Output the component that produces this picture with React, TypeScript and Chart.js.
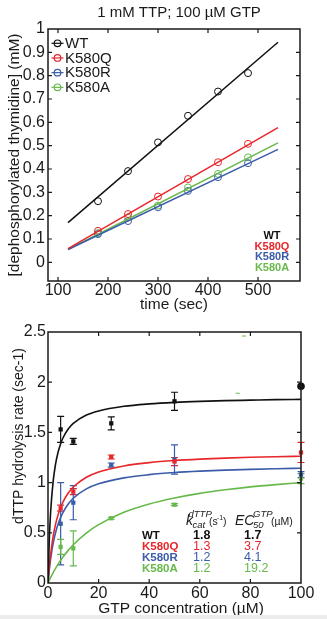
import React, { useEffect, useRef } from "react";
import { Chart, registerables } from "chart.js";

Chart.register(...registerables);

const RED = "#e8262b";
const BLUE = "#3b5ca8";
const GREEN = "#67b94c";
const BLACK = "#111111";
const FONT = "'Liberation Sans', Arial, sans-serif";

// ---------- top chart data ----------
const timeSec = [180, 240, 300, 360, 420, 480];
const wtProduct = [0.262, 0.391, 0.514, 0.628, 0.732, 0.811];
const k580qProduct = [0.135, 0.207, 0.282, 0.357, 0.429, 0.508];
const k580rProduct = [0.121, 0.177, 0.236, 0.306, 0.365, 0.425];
const k580aProduct = [0.125, 0.192, 0.243, 0.321, 0.379, 0.45];
const fitTime = [120, 540];
const wtFit = [0.17, 0.943];
const k580qFit = [0.059, 0.577];
const k580rFit = [0.055, 0.484];
const k580aFit = [0.055, 0.512];
const topXTicks = [100, 200, 300, 400, 500];
const topYTicks = [0, 0.1, 0.2, 0.3, 0.4, 0.5, 0.6, 0.7, 0.8, 0.9, 1];
const topYLabels = ["0", "0.1", "0.2", "0.3", "0.4", "0.5", "0.6", "0.7", "0.8", "0.9", "1"];
const seriesNames = ["WT", "K580Q", "K580R", "K580A"];
const seriesColors = [BLACK, RED, BLUE, GREEN];

// ---------- bottom chart data ----------
const gtpConc = [5, 10, 25, 50, 100];
const wtRate = [1.53, 1.41, 1.59, 1.81, 1.96];
const wtErr = [0.13, 0.03, 0.065, 0.09, 0];
const k580qRate = [0.745, 0.91, 1.255, 1.21, 1.3];
const k580qErr = [0.03, 0.03, 0.02, 0.04, 0.1];
const k580rRate = [0.59, 0.8, 1.175, 1.23, 1.08];
const k580rErr = [0.41, 0.17, 0.02, 0.145, 0.03];
const k580aRate = [0.36, 0.345, 0.645, 0.78, 1.04];
const k580aErr = [0.075, 0.175, 0.01, 0.01, 0.05];
const strayX = [75, 77.5];
const strayY = [1.89, 2.46];
const curveX = [0, 0.5, 1, 2, 3, 4, 5, 6, 8, 10, 15, 20, 30, 40, 50, 60, 70, 80, 90, 100];
const wtCurve = [0, 0.423, 0.689, 1.005, 1.187, 1.305, 1.388, 1.449, 1.534, 1.59, 1.671, 1.714, 1.76, 1.784, 1.799, 1.809, 1.816, 1.821, 1.826, 1.829];
const k580qCurve = [0, 0.156, 0.279, 0.46, 0.587, 0.681, 0.753, 0.81, 0.896, 0.956, 1.051, 1.105, 1.166, 1.199, 1.22, 1.234, 1.244, 1.252, 1.258, 1.263];
const k580rCurve = [0, 0.129, 0.233, 0.39, 0.503, 0.588, 0.654, 0.707, 0.787, 0.844, 0.935, 0.988, 1.047, 1.079, 1.1, 1.114, 1.124, 1.132, 1.138, 1.143];
const k580aCurve = [0, 0.027, 0.053, 0.102, 0.146, 0.188, 0.226, 0.261, 0.325, 0.381, 0.495, 0.581, 0.704, 0.787, 0.847, 0.893, 0.928, 0.957, 0.98, 1.0];
const botXTicks = [0, 20, 40, 60, 80, 100];
const botYTicks = [0, 0.5, 1, 1.5, 2, 2.5];
const botYLabels = ["0", "0.5", "1", "1.5", "2", "2.5"];
const kcatValues = ["1.8", "1.3", "1.2", "1.2"];
const ec50Values = ["1.7", "3.7", "4.1", "19.2"];

const pts = (xs: number[], ys: number[]) => xs.map((x, i) => ({ x, y: ys[i] }));

function drawFrame(chart: any, tickLen: number) {
  const { ctx, chartArea, scales } = chart;
  const { left, right, top, bottom } = chartArea;
  ctx.save();
  ctx.strokeStyle = "#1a1a1a";
  ctx.lineWidth = 1.5;
  ctx.strokeRect(left, top, right - left, bottom - top);
  ctx.lineWidth = 1.2;
  ctx.beginPath();
  scales.x.ticks.forEach((t: any) => {
    const px = scales.x.getPixelForValue(t.value);
    if (px > left + 2 && px < right - 2) {
      ctx.moveTo(px, bottom);
      ctx.lineTo(px, bottom - tickLen);
      ctx.moveTo(px, top);
      ctx.lineTo(px, top + tickLen);
    }
  });
  scales.y.ticks.forEach((t: any) => {
    const py = scales.y.getPixelForValue(t.value);
    if (py > top + 2 && py < bottom - 2) {
      ctx.moveTo(left, py);
      ctx.lineTo(left + tickLen, py);
      ctx.moveTo(right, py);
      ctx.lineTo(right - tickLen, py);
    }
  });
  ctx.stroke();
  ctx.restore();
}

function vText(ctx: any, text: string, cx: number, cy: number, font: string) {
  ctx.save();
  ctx.translate(cx, cy);
  ctx.rotate(-Math.PI / 2);
  ctx.font = font;
  ctx.fillStyle = "#1a1a1a";
  ctx.textAlign = "center";
  ctx.textBaseline = "middle";
  ctx.fillText(text, 0, 0);
  ctx.restore();
}

const topPlugin = {
  id: "topDecor",
  afterDraw(chart: any) {
    const ctx = chart.ctx;
    drawFrame(chart, 4);
    ctx.save();
    ctx.fillStyle = "#1a1a1a";
    ctx.font = `15px ${FONT}`;
    ctx.textAlign = "center";
    ctx.textBaseline = "middle";
    ctx.fillText("1 mM TTP; 100 \u00b5M GTP", 179, 13);
    ctx.font = `15.5px ${FONT}`;
    ctx.fillText("time (sec)", 174, 305);
    vText(ctx, "[dephosphorylated thymidine] (mM)", 14.5, 155, `15.5px ${FONT}`);
    // legend
    seriesNames.forEach((name, i) => {
      const cy = 43.3 + i * 14.67;
      ctx.strokeStyle = seriesColors[i];
      ctx.lineWidth = 1.2;
      ctx.beginPath();
      ctx.moveTo(51.5, cy);
      ctx.lineTo(63.5, cy);
      ctx.stroke();
      ctx.beginPath();
      ctx.arc(57.5, cy, 3.3, 0, Math.PI * 2);
      ctx.stroke();
      ctx.fillStyle = "#1a1a1a";
      ctx.font = `15px ${FONT}`;
      ctx.textAlign = "left";
      ctx.textBaseline = "middle";
      ctx.fillText(name, 65, cy + 0.5);
    });
    // annotation
    seriesNames.forEach((name, i) => {
      ctx.fillStyle = seriesColors[i];
      ctx.font = `bold 11px ${FONT}`;
      ctx.textAlign = "center";
      ctx.textBaseline = "middle";
      ctx.fillText(name, 272, 236 + i * 10.5);
    });
    ctx.restore();
  },
};

const errPlugin = {
  id: "errBars",
  beforeDatasetsDraw(chart: any) {
    const ctx = chart.ctx;
    const { x, y } = chart.scales;
    chart.data.datasets.forEach((ds: any) => {
      if (!ds.errorBars) return;
      ctx.save();
      ctx.strokeStyle = ds.borderColor;
      ctx.lineWidth = 1.2;
      ds.data.forEach((p: any, i: number) => {
        const e = ds.errorBars[i];
        if (!e) return;
        const px = x.getPixelForValue(p.x);
        const yt = y.getPixelForValue(p.y + e);
        const yb = y.getPixelForValue(p.y - e);
        ctx.beginPath();
        ctx.moveTo(px, yt);
        ctx.lineTo(px, yb);
        ctx.moveTo(px - 3.5, yt);
        ctx.lineTo(px + 3.5, yt);
        ctx.moveTo(px - 3.5, yb);
        ctx.lineTo(px + 3.5, yb);
        ctx.stroke();
      });
      ctx.restore();
    });
  },
};

const botPlugin = {
  id: "botDecor",
  afterDraw(chart: any) {
    const ctx = chart.ctx;
    drawFrame(chart, 4);
    ctx.save();
    ctx.fillStyle = "#1a1a1a";
    ctx.font = `15.5px ${FONT}`;
    ctx.textAlign = "center";
    ctx.textBaseline = "middle";
    ctx.fillText("GTP concentration (\u00b5M)", 181, 289);
    vText(ctx, "dTTP hydrolysis rate (sec-1)", 19, 116, `14px ${FONT}`);
    // header
    ctx.textAlign = "left";
    ctx.textBaseline = "alphabetic";
    ctx.font = `italic 14px ${FONT}`;
    ctx.fillText("k", 186, 205);
    ctx.font = `italic 9.5px ${FONT}`;
    ctx.fillText("cat", 192.5, 208);
    ctx.fillText("dTTP", 188.5, 197);
    ctx.font = `10.5px ${FONT}`;
    ctx.fillText("(s", 209, 205);
    ctx.font = `7px ${FONT}`;
    ctx.fillText("-1", 217, 200);
    ctx.font = `10.5px ${FONT}`;
    ctx.fillText(")", 223, 205);
    ctx.font = `italic 14px ${FONT}`;
    ctx.fillText("EC", 235, 205);
    ctx.font = `italic 9.5px ${FONT}`;
    ctx.fillText("50", 253, 208);
    ctx.fillText("GTP", 253, 197);
    ctx.font = `10.5px ${FONT}`;
    ctx.fillText("(\u00b5M)", 271, 205);
    seriesNames.forEach((name, i) => {
      const cy = 216 + i * 11;
      ctx.fillStyle = seriesColors[i];
      ctx.textBaseline = "middle";
      ctx.font = `bold 11.5px ${FONT}`;
      ctx.fillText(name, 142, cy);
      ctx.font = `${i === 0 ? "bold " : ""}12.5px ${FONT}`;
      ctx.fillText(kcatValues[i], 193, cy);
      ctx.fillText(ec50Values[i], 244, cy);
    });
    ctx.restore();
  },
};

function fixedTicks(values: number[]) {
  return (scale: any) => {
    scale.ticks = values.map((v) => ({ value: v }));
  };
}

function TopChart() {
  const ref = useRef<HTMLCanvasElement>(null);
  useEffect(() => {
    const datasets: any[] = [];
    const fits = [wtFit, k580qFit, k580rFit, k580aFit];
    const prods = [wtProduct, k580qProduct, k580rProduct, k580aProduct];
    fits.forEach((f, i) => {
      datasets.push({
        data: pts(fitTime, f),
        showLine: true,
        borderColor: seriesColors[i],
        borderWidth: 1.5,
        pointRadius: 0,
      });
    });
    prods.forEach((p, i) => {
      datasets.push({
        data: pts(timeSec, p),
        showLine: false,
        borderColor: seriesColors[i],
        backgroundColor: "rgba(0,0,0,0)",
        borderWidth: 1,
        pointRadius: 3.5,
        pointStyle: "circle",
      });
    });
    const chart = new Chart(ref.current!, {
      type: "scatter",
      data: { datasets },
      plugins: [topPlugin],
      options: {
        animation: false,
        responsive: false,
        devicePixelRatio: 1,
        layout: { padding: { top: 29, right: 27, left: 0, bottom: 0 } },
        plugins: { legend: { display: false }, tooltip: { enabled: false } },
        scales: {
          x: {
            type: "linear",
            min: 80,
            max: 584,
            grid: { display: false, drawTicks: false },
            border: { display: false },
            afterBuildTicks: fixedTicks(topXTicks),
            afterFit: (s: any) => { s.height = 39; },
            ticks: { color: "#1a1a1a", font: { family: FONT, size: 16 }, padding: 0, maxRotation: 0, callback: (v: any) => String(v) },
          },
          y: {
            type: "linear",
            min: -0.08,
            max: 1,
            grid: { display: false, drawTicks: false },
            border: { display: false },
            afterBuildTicks: fixedTicks(topYTicks),
            afterFit: (s: any) => { s.width = 48; },
            ticks: {
              color: "#1a1a1a",
              font: { family: FONT, size: 16 },
              padding: 3,
              callback: (v: any) => topYLabels[topYTicks.findIndex((t) => Math.abs(t - v) < 1e-9)] ?? "",
            },
          },
        },
      } as any,
    });
    return () => chart.destroy();
  }, []);
  return <canvas ref={ref} width={327} height={320} style={{ display: "block" }} />;
}

function BottomChart() {
  const ref = useRef<HTMLCanvasElement>(null);
  useEffect(() => {
    const curves = [wtCurve, k580qCurve, k580rCurve, k580aCurve];
    const rates = [wtRate, k580qRate, k580rRate, k580aRate];
    const errs = [wtErr, k580qErr, k580rErr, k580aErr];
    const datasets: any[] = [];
    curves.forEach((c, i) => {
      datasets.push({
        data: pts(curveX, c),
        showLine: true,
        borderColor: seriesColors[i],
        borderWidth: 1.6,
        pointRadius: 0,
        cubicInterpolationMode: "monotone",
      });
    });
    rates.forEach((r, i) => {
      datasets.push({
        data: pts(gtpConc, r),
        showLine: false,
        clip: false,
        borderColor: seriesColors[i],
        backgroundColor: seriesColors[i],
        borderWidth: 0,
        pointRadius: i === 0 ? [3, 3, 3, 3, 3.8] : 3,
        pointStyle: i === 0 ? ["rect", "rect", "rect", "rect", "circle"] : "rect",
        errorBars: errs[i],
      });
    });
    datasets.push({
      data: pts(strayX, strayY),
      showLine: false,
      clip: false,
      borderColor: GREEN,
      borderWidth: 1,
      pointRadius: 2,
      pointStyle: "line",
    });
    const chart = new Chart(ref.current!, {
      type: "scatter",
      data: { datasets },
      plugins: [errPlugin, botPlugin],
      options: {
        animation: false,
        responsive: false,
        devicePixelRatio: 1,
        layout: { padding: { top: 12, right: 26, left: 0, bottom: 0 } },
        plugins: { legend: { display: false }, tooltip: { enabled: false } },
        scales: {
          x: {
            type: "linear",
            min: 0,
            max: 100,
            grid: { display: false, drawTicks: false },
            border: { display: false },
            afterBuildTicks: fixedTicks(botXTicks),
            afterFit: (s: any) => { s.height = 36; },
            ticks: { color: "#1a1a1a", font: { family: FONT, size: 16 }, padding: 1, maxRotation: 0, callback: (v: any) => String(v) },
          },
          y: {
            type: "linear",
            min: 0,
            max: 2.5,
            grid: { display: false, drawTicks: false },
            border: { display: false },
            afterBuildTicks: fixedTicks(botYTicks),
            afterFit: (s: any) => { s.width = 48; },
            ticks: {
              color: "#1a1a1a",
              font: { family: FONT, size: 16 },
              padding: 2,
              callback: (v: any) => botYLabels[botYTicks.findIndex((t) => Math.abs(t - v) < 1e-9)] ?? "",
            },
          },
        },
      } as any,
    });
    return () => chart.destroy();
  }, []);
  return <canvas ref={ref} width={327} height={299} style={{ display: "block" }} />;
}

export default function App() {
  return (
    <div style={{ position: "absolute", left: 0, top: 0, width: 327, height: 619, background: "#fff", overflow: "hidden" }}>
      <TopChart />
      <BottomChart />
      <div style={{ position: "absolute", left: 0, top: 615, width: 327, height: 4, background: "#ececec" }} />
    </div>
  );
}
